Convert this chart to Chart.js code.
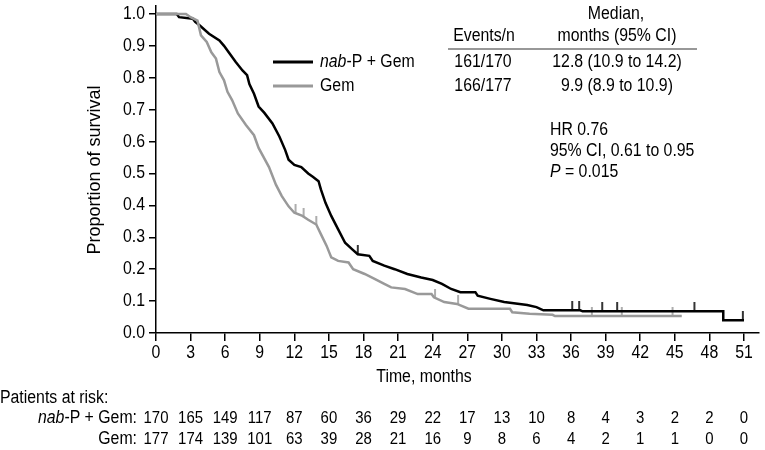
<!DOCTYPE html>
<html>
<head>
<meta charset="utf-8">
<script src="https://cdn.jsdelivr.net/npm/chart.js@4.4.0/dist/chart.umd.min.js"></script>
<style>
  body { margin: 0; background: #fff; }
</style>
</head>
<body>
<canvas id="kmChart" width="765" height="450"></canvas>
<script>
// x axis ticks (months) and numbers at risk under each tick
const xTicks = [0, 3, 6, 9, 12, 15, 18, 21, 24, 27, 30, 33, 36, 39, 42, 45, 48, 51];
const yTicks = [0, 0.1, 0.2, 0.3, 0.4, 0.5, 0.6, 0.7, 0.8, 0.9, 1.0];
const riskNab = [170, 165, 149, 117, 87, 60, 36, 29, 22, 17, 13, 10, 8, 4, 3, 2, 2, 0];
const riskGem = [177, 174, 139, 101, 63, 39, 28, 21, 16, 9, 8, 6, 4, 2, 1, 1, 0, 0];

// nab-P + Gem curve
const nabTimes = [0, 1.8, 2.0, 3.2, 3.4, 3.8, 4.6, 5.5, 5.9, 6.4, 6.9, 7.5, 7.9, 8.1, 8.5, 8.9, 9.4, 10.1,
  10.7, 11.2, 11.5, 12.0, 12.6, 13.2, 13.6, 14.1, 14.3, 14.7, 15.2, 15.8, 16.4, 17.0, 17.5, 18.5, 18.8,
  19.8, 20.7, 21.8, 23.0, 24.0, 24.8, 25.6, 26.4, 27.7, 27.9, 29.0, 30.2, 32.2, 33.0, 33.6, 36.8, 37.0,
  49.2, 49.2, 51.0];
const nabSurv = [1.0, 1.0, 0.99, 0.985, 0.975, 0.964, 0.938, 0.917, 0.90, 0.875, 0.85, 0.823, 0.808, 0.78,
  0.75, 0.71, 0.69, 0.657, 0.616, 0.574, 0.543, 0.527, 0.52, 0.50, 0.49, 0.476, 0.45, 0.408, 0.367, 0.325,
  0.283, 0.263, 0.247, 0.242, 0.226, 0.211, 0.20, 0.185, 0.174, 0.166, 0.154, 0.138, 0.128, 0.128, 0.117,
  0.107, 0.097, 0.088, 0.081, 0.071, 0.071, 0.068, 0.068, 0.04, 0.04];

// Gem curve
const gemTimes = [0, 2.6, 3.0, 3.6, 3.9, 4.4, 4.8, 5.2, 5.5, 5.9, 6.2, 6.6, 7.1, 7.8, 8.5, 8.9, 9.8, 10.4,
  10.9, 11.5, 12.0, 12.7, 13.2, 13.9, 14.3, 14.8, 15.2, 15.8, 16.7, 17.1, 18.1, 19.0, 19.8, 20.4, 21.6,
  22.7, 23.9, 24.1, 25.0, 26.1, 27.1, 30.7, 30.9, 32.4, 34.4, 34.6, 45.6];
const gemSurv = [1.0, 1.0, 0.99, 0.979, 0.933, 0.912, 0.88, 0.86, 0.818, 0.792, 0.756, 0.73, 0.688, 0.652,
  0.62, 0.58, 0.52, 0.465, 0.43, 0.397, 0.377, 0.367, 0.355, 0.34, 0.31, 0.273, 0.237, 0.226, 0.221, 0.20,
  0.185, 0.169, 0.154, 0.143, 0.138, 0.122, 0.122, 0.112, 0.097, 0.091, 0.076, 0.076, 0.065, 0.06, 0.057,
  0.053, 0.053];

// censored observations (months)
const nabCensor = [17.5, 36.1, 36.7, 38.7, 40.0, 46.7, 50.9];
const gemCensor = [12.1, 12.8, 13.9, 24.2, 26.2, 37.8, 40.4, 44.8];

const FONT = '"Liberation Sans", Arial, sans-serif';
const SQUEEZE = 0.88; // the figure's lettering is a bit narrow

// value of the drawn curve at time t
const survAt = (times, surv, t) => {
  for (let i = 1; i < times.length; i++) {
    if (t <= times[i]) {
      const span = times[i] - times[i - 1];
      if (span === 0) return surv[i];
      return surv[i - 1] + (surv[i] - surv[i - 1]) * (t - times[i - 1]) / span;
    }
  }
  return surv[surv.length - 1];
};

// small upward tick used as censor mark
const censorMark = (color) => {
  const c = document.createElement('canvas');
  c.width = 4; c.height = 18;
  const g = c.getContext('2d');
  g.strokeStyle = color; g.lineWidth = 1.6;
  g.beginPath(); g.moveTo(2, 0); g.lineTo(2, 9); g.stroke();
  return c;
};

const toPoints = (times, surv) => times.map((t, i) => ({ x: t, y: surv[i] }));
const censorPoints = (cens, times, surv) => cens.map(t => ({ x: t, y: survAt(times, surv, t) }));

// draws runs like [['nab', true], ['-P + Gem', false]] squeezed horizontally
const drawRuns = (ctx, runs, x, y, align, size = 18) => {
  const fontOf = it => `${it ? 'italic ' : ''}${size}px ${FONT}`;
  let total = 0;
  runs.forEach(([s, it]) => { ctx.font = fontOf(it); total += ctx.measureText(s).width; });
  total *= SQUEEZE;
  let cx = align === 'center' ? x - total / 2 : align === 'right' ? x - total : x;
  ctx.textAlign = 'left';
  runs.forEach(([s, it]) => {
    ctx.font = fontOf(it);
    const w = ctx.measureText(s).width * SQUEEZE;
    ctx.save();
    ctx.translate(cx, y);
    ctx.scale(SQUEEZE, 1);
    ctx.fillText(s, 0, 0);
    ctx.restore();
    cx += w;
  });
};
const drawText = (ctx, s, x, y, align, size) => drawRuns(ctx, [[s, false]], x, y, align, size);

const textPlugin = {
  id: 'kmText',
  afterDraw(chart) {
    const ctx = chart.ctx;
    const xs = chart.scales.x;
    const ys = chart.scales.y;
    ctx.save();
    ctx.fillStyle = '#000';
    ctx.textBaseline = 'middle';

    // tick labels
    xTicks.forEach(t => drawText(ctx, String(t), xs.getPixelForValue(t), 353, 'center'));
    yTicks.forEach(v => drawText(ctx, v.toFixed(1), 145, ys.getPixelForValue(v), 'right'));

    // y axis title
    ctx.save();
    ctx.translate(95, 170);
    ctx.rotate(-Math.PI / 2);
    ctx.font = `18px ${FONT}`;
    ctx.textAlign = 'center';
    ctx.fillText('Proportion of survival', 0, 0);
    ctx.restore();

    // x axis title
    drawText(ctx, 'Time, months', 424, 377, 'center');

    // legend + summary table
    drawText(ctx, 'Median,', 616, 14, 'center');
    drawText(ctx, 'Events/n', 484, 36, 'center');
    drawText(ctx, 'months (95% CI)', 617, 36, 'center');
    ctx.strokeStyle = '#333';
    ctx.lineWidth = 1.2;
    ctx.beginPath(); ctx.moveTo(448, 49); ctx.lineTo(697, 49); ctx.stroke();

    ctx.lineWidth = 3;
    ctx.strokeStyle = '#000';
    ctx.beginPath(); ctx.moveTo(273, 62); ctx.lineTo(313, 62); ctx.stroke();
    ctx.strokeStyle = '#999';
    ctx.beginPath(); ctx.moveTo(273, 86); ctx.lineTo(313, 86); ctx.stroke();

    drawRuns(ctx, [['nab', true], ['-P + Gem', false]], 320, 62, 'left');
    drawText(ctx, 'Gem', 320, 86, 'left');
    drawText(ctx, '161/170', 483, 62, 'center');
    drawText(ctx, '12.8 (10.9 to 14.2)', 617, 62, 'center');
    drawText(ctx, '166/177', 483, 86, 'center');
    drawText(ctx, '9.9 (8.9 to 10.9)', 617, 86, 'center');

    drawText(ctx, 'HR 0.76', 550, 130, 'left');
    drawText(ctx, '95% CI, 0.61 to 0.95', 550, 151, 'left');
    drawRuns(ctx, [['P', true], [' = 0.015', false]], 550, 172, 'left');

    // patients at risk
    drawText(ctx, 'Patients at risk:', 0, 398, 'left');
    drawRuns(ctx, [['nab', true], ['-P + Gem:', false]], 137, 418, 'right');
    drawText(ctx, 'Gem:', 137, 439, 'right');
    xTicks.forEach((t, i) => {
      const px = xs.getPixelForValue(t);
      drawText(ctx, String(riskNab[i]), px, 418, 'center', 17);
      drawText(ctx, String(riskGem[i]), px, 439, 'center', 17);
    });
    ctx.restore();
  }
};

new Chart(document.getElementById('kmChart'), {
  type: 'line',
  data: {
    datasets: [
      {
        label: 'Gem',
        data: toPoints(gemTimes, gemSurv),
        borderColor: '#999',
        borderWidth: 2.5,
        pointRadius: 0,
        tension: 0
      },
      {
        label: 'nab-P + Gem',
        data: toPoints(nabTimes, nabSurv),
        borderColor: '#000',
        borderWidth: 2.5,
        pointRadius: 0,
        tension: 0
      },
      {
        label: 'Gem censored',
        data: censorPoints(gemCensor, gemTimes, gemSurv),
        showLine: false,
        pointStyle: censorMark('#999'),
        pointRadius: 5
      },
      {
        label: 'nab-P + Gem censored',
        data: censorPoints(nabCensor, nabTimes, nabSurv),
        showLine: false,
        pointStyle: censorMark('#000'),
        pointRadius: 5
      }
    ]
  },
  options: {
    responsive: false,
    animation: false,
    layout: { padding: { top: 2, left: 0, right: 0, bottom: 0 } },
    plugins: { legend: { display: false }, tooltip: { enabled: false } },
    scales: {
      x: {
        type: 'linear',
        min: 0,
        max: 52.3,
        afterBuildTicks: s => { s.ticks = xTicks.map(v => ({ value: v })); },
        afterFit: s => { s.height = 117; },
        grid: { drawOnChartArea: false, tickLength: 8, color: '#000', lineWidth: 1.5 },
        border: { color: '#000', width: 1.5 },
        ticks: { display: false }
      },
      y: {
        min: 0,
        max: 1.025,
        afterBuildTicks: s => { s.ticks = yTicks.map(v => ({ value: v })); },
        afterFit: s => { s.width = 156; },
        grid: { drawOnChartArea: false, tickLength: 7, color: '#000', lineWidth: 1.5 },
        border: { color: '#000', width: 1.5 },
        ticks: { display: false }
      }
    }
  },
  plugins: [textPlugin]
});
</script>
</body>
</html>
